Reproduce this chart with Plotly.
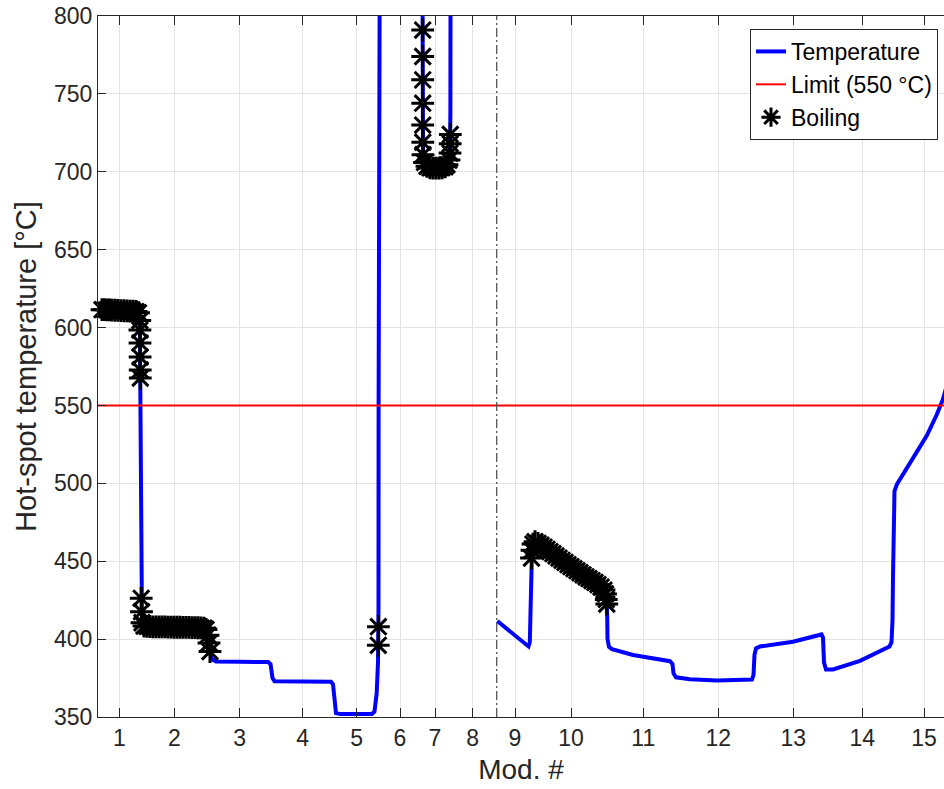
import plotly.graph_objects as go

# ---- data (x = position along the assembly, arbitrary length units) ----
MOD_LABELS = [str(i) for i in range(1, 16)]
MOD_CENTERS = [0.213, 0.763, 1.417, 2.047, 2.587, 3.020, 3.370, 3.747,
               4.170, 4.730, 5.453, 6.203, 6.953, 7.643, 8.260]
SPLIT_X = 3.987
LIMIT_T = 550

# first group (modules 1-8)
SEG_A_X = [0.040, 0.065, 0.090, 0.115, 0.140, 0.170, 0.200, 0.230, 0.260, 0.290,
           0.320, 0.350, 0.380, 0.405, 0.418, 0.419, 0.420, 0.421, 0.422, 0.423,
           0.425, 0.428, 0.430, 0.432, 0.435, 0.440, 0.460, 0.490, 0.520, 0.550,
           0.580, 0.610, 0.640, 0.670, 0.700, 0.730, 0.760, 0.790, 0.820, 0.850,
           0.880, 0.910, 0.940, 0.970, 1.000, 1.030, 1.060, 1.080, 1.100, 1.110,
           1.120, 1.140, 1.180, 1.420, 1.700, 1.725, 1.735, 1.745, 1.765, 1.920,
           2.330, 2.350, 2.360, 2.365, 2.380, 2.420, 2.740, 2.765, 2.787, 2.800,
           2.803, 2.804, 2.805, 2.806, 2.810, 2.815, 2.820, 3.020, 3.240, 3.245,
           3.247, 3.247, 3.247, 3.247, 3.247, 3.248, 3.250, 3.265, 3.290, 3.320,
           3.350, 3.380, 3.410, 3.440, 3.470, 3.490, 3.510, 3.520, 3.522, 3.523,
           3.524, 3.525, 3.530]
SEG_A_T = [611.5, 611.5, 611.4, 611.3, 611.2, 611.1, 611.0, 610.9, 610.8, 610.7,
           610.6, 610.5, 610.3, 609.5, 604.5, 598.4, 590.1, 581.1, 572.8, 567.6,
           540.0, 480.0, 440.0, 426.2, 417.6, 410.5, 408.4, 408.2, 408.0, 407.9,
           407.9, 407.8, 407.8, 407.8, 407.7, 407.7, 407.6, 407.6, 407.6, 407.5,
           407.5, 407.5, 407.4, 407.4, 407.3, 407.2, 407.0, 406.2, 402.5, 397.5,
           392.0, 387.0, 385.6, 385.4, 385.3, 384.0, 380.0, 375.0, 373.0, 372.8,
           372.6, 371.0, 365.0, 356.0, 352.5, 352.0, 352.0, 353.5, 365.4, 385.0,
           396.0, 408.0, 420.0, 550.0, 700.0, 800.0, 900.0, 1000.0, 900.0, 820.0,
           791.0, 774.0, 759.0, 744.0, 730.0, 719.0, 711.0, 706.0, 703.5, 702.5,
           702.3, 702.3, 702.4, 702.6, 703.2, 704.5, 707.5, 712.0, 718.0, 724.0,
           740.0, 800.0, 900.0]
SEG_A_BOIL = [1] * 20 + [0] * 3 + [1] * 28 + [0] * 19 + [1] * 2 + [0] * 8 + [1] * 20 + [0] * 3

# second group (modules 9-15)
SEG_B_X = [3.993, 4.140, 4.290, 4.305, 4.318, 4.325, 4.330, 4.335, 4.340, 4.350,
           4.370, 4.400, 4.430, 4.460, 4.490, 4.520, 4.550, 4.580, 4.610, 4.640,
           4.670, 4.700, 4.730, 4.760, 4.790, 4.820, 4.850, 4.880, 4.910, 4.940,
           4.970, 5.000, 5.030, 5.060, 5.075, 5.083, 5.088, 5.092, 5.095, 5.110,
           5.140, 5.350, 5.720, 5.745, 5.755, 5.780, 5.920, 6.190, 6.420, 6.540,
           6.555, 6.565, 6.580, 6.620, 6.950, 7.235, 7.250, 7.260, 7.280, 7.350,
           7.620, 7.915, 7.935, 7.945, 7.950, 7.953, 7.965, 7.990, 8.120, 8.287,
           8.387, 8.447, 8.480]
SEG_B_T = [411.6, 403.6, 395.8, 395.3, 398.0, 420.0, 445.0, 452.0, 457.0, 461.0,
           462.5, 461.5, 460.3, 459.0, 457.6, 456.2, 454.8, 453.4, 452.0, 450.6,
           449.2, 447.8, 446.5, 445.2, 443.9, 442.6, 441.3, 440.0, 438.8, 437.6,
           436.4, 435.0, 433.4, 431.5, 429.0, 425.5, 422.5, 414.0, 400.0, 395.0,
           393.6, 389.8, 385.8, 384.0, 378.0, 375.5, 374.3, 373.5, 373.5, 374.0,
           377.0, 390.0, 394.0, 395.3, 398.3, 403.0, 401.0, 385.0, 380.5, 380.5,
           386.0, 395.3, 398.0, 412.0, 440.0, 470.0, 495.0, 499.5, 512.8, 530.5,
           544.0, 553.5, 561.0]
SEG_B_BOIL = [0] * 7 + [1] * 30 + [0] * 36

# ---- build traces ----
all_x = SEG_A_X + SEG_B_X
all_t = SEG_A_T + SEG_B_T
all_b = SEG_A_BOIL + SEG_B_BOIL
line_x = SEG_A_X + [None] + SEG_B_X
line_t = SEG_A_T + [None] + SEG_B_T
boil_x = [x for x, b in zip(all_x, all_b) if b]
boil_t = [t for t, b in zip(all_t, all_b) if b]

X_RANGE = [0, 8.46]
Y_RANGE = [350, 800]

fig = go.Figure()
fig.add_trace(go.Scatter(x=line_x, y=line_t, mode="lines", name="Temperature",
                         line=dict(color="#0000ff", width=4), connectgaps=False))
fig.add_trace(go.Scatter(x=X_RANGE, y=[LIMIT_T, LIMIT_T], mode="lines", name="Limit (550 °C)",
                         line=dict(color="#ff0000", width=2)))
fig.add_trace(go.Scatter(x=boil_x, y=boil_t, mode="markers", name="Boiling",
                         marker=dict(symbol="asterisk-open", size=19, color="black",
                                     line=dict(color="black", width=3)),
                         cliponaxis=False))

fig.add_shape(type="line", xref="x", yref="paper", x0=SPLIT_X, x1=SPLIT_X, y0=0, y1=1,
              line=dict(color="#555555", width=1.3, dash="9px,3px,2px,3px"), layer="above")

axis_col = "#262626"
grid_col = "#e3e3e3"
font_fam = "Liberation Sans, Arial, sans-serif"

fig.update_layout(
    width=944, height=789,
    margin=dict(l=98, r=0, t=16, b=72),
    plot_bgcolor="white", paper_bgcolor="white",
    font=dict(family=font_fam, size=23, color=axis_col),
    showlegend=True,
    legend=dict(x=0.9929, y=0.9815, xanchor="right", yanchor="top",
                bgcolor="white", bordercolor=axis_col, borderwidth=1,
                font=dict(family=font_fam, size=23, color="black"),
                tracegroupgap=0, itemwidth=30),
    xaxis=dict(range=X_RANGE, tickvals=MOD_CENTERS, ticktext=MOD_LABELS,
               showgrid=True, gridcolor=grid_col, gridwidth=1,
               showline=True, linecolor=axis_col, linewidth=1, mirror="ticks",
               ticks="inside", ticklen=9, tickcolor=axis_col,
               tickfont=dict(size=23, color=axis_col),
               title=dict(text="Mod. #", font=dict(size=28, color=axis_col), standoff=9),
               zeroline=False),
    yaxis=dict(range=Y_RANGE, dtick=50, tick0=350,
               showgrid=True, gridcolor=grid_col, gridwidth=1,
               showline=True, linecolor=axis_col, linewidth=1, mirror=False,
               ticks="inside", ticklen=8, tickcolor=axis_col,
               tickfont=dict(size=23, color=axis_col),
               title=dict(text="Hot-spot temperature [°C]", font=dict(size=29, color=axis_col), standoff=8),
               zeroline=False),
)

fig.write_html("out.html")
